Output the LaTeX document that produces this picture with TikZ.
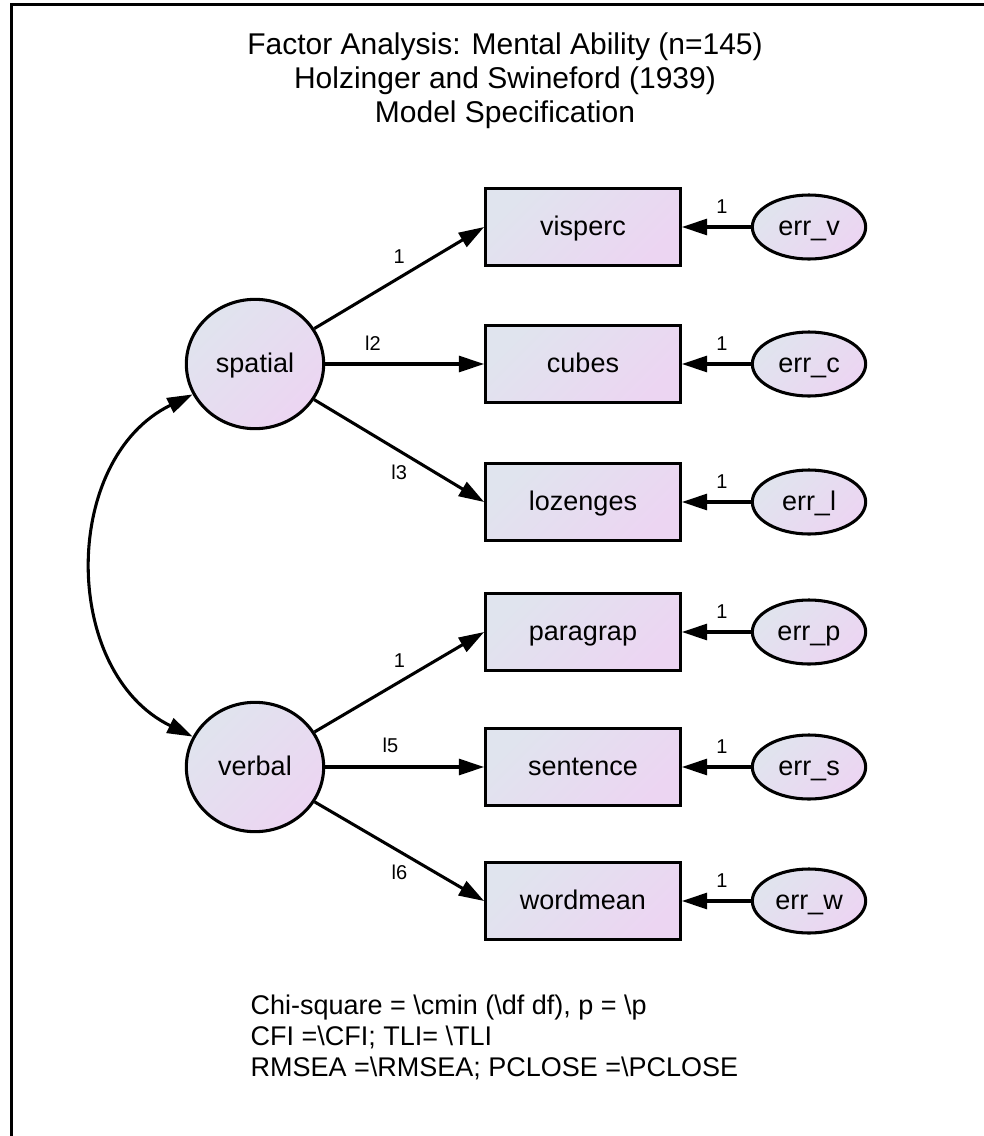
\documentclass[tikz,border=0pt]{standalone}
\usepackage{fontspec}
\setmainfont{Liberation Sans}
\usetikzlibrary{arrows.meta,shapes.geometric}
\definecolor{bl}{RGB}{224,228,238}
\definecolor{pk}{RGB}{236,213,242}
\tikzstyle{every node}=[font=\fontsize{20.25}{24}\selectfont]
\tikzstyle{latent}=[ellipse,draw,minimum width=103pt,minimum height=97pt,inner sep=0pt,text height=12.5pt,text depth=0pt,top color=bl,bottom color=pk,shading angle=45]
\tikzstyle{manifest}=[rectangle,draw,minimum width=146pt,minimum height=58pt,inner sep=0pt,text height=12.5pt,text depth=0pt,top color=bl,bottom color=pk,shading angle=45]
\tikzstyle{errvar}=[ellipse,draw,minimum width=85pt,minimum height=48pt,inner sep=0pt,text height=12.5pt,text depth=0pt,top color=bl,bottom color=pk,shading angle=45]
\tikzstyle{coef}=[font=\fontsize{15}{17}\selectfont]
\tikzstyle{heading}=[align=center,inner sep=0pt,anchor=north,font=\fontsize{22.5}{25.5}\selectfont]
\tikzstyle{fitinfo}=[align=left,inner sep=0pt,anchor=north west,font=\fontsize{20.25}{23.25}\selectfont]

\begin{document}
\begin{tikzpicture}[x=0.75pt,y=-0.75pt,->,>={Triangle[length=19pt,width=12pt]},line width=2.3pt,node distance=169.5pt]
	\useasboundingbox (0,0) rectangle (984,1136);
	\draw[-,line width=2.25pt] (984,4) -| (11,1136);
	\node[heading] (head) at (505,31) {Factor Analysis: Mental Ability (n=145)\\Holzinger and Swineford (1939)\\Model Specification};
	% factors
	\node[latent] (spatial) at (255,364) {spatial};
	\node[latent] (verbal) at (255,767) {verbal};
	% indicators
	\node[manifest] (visperc) at (583,227) {visperc};
	\node[manifest] (cubes) at (583,364) {cubes};
	\node[manifest] (lozenges) at (583,502) {lozenges};
	\node[manifest] (paragrap) at (583,632) {paragrap};
	\node[manifest] (sentence) at (583,767) {sentence};
	\node[manifest] (wordmean) at (583,901) {wordmean};
	% errors
	\node[errvar] (ev) [right of=visperc] {err\_v};
	\node[errvar] (ec) [right of=cubes] {err\_c};
	\node[errvar] (el) [right of=lozenges] {err\_l};
	\node[errvar] (ep) [right of=paragrap] {err\_p};
	\node[errvar] (es) [right of=sentence] {err\_s};
	\node[errvar] (ew) [right of=wordmean] {err\_w};
	\node[fitinfo] (fit) at (249,993) {Chi-square = \textbackslash cmin (\textbackslash df df), p = \textbackslash p\\CFI =\textbackslash CFI; TLI= \textbackslash TLI\\RMSEA =\textbackslash RMSEA; PCLOSE =\textbackslash PCLOSE};
	\path
		(spatial)	edge	node[coef,above=6pt]{1}		(visperc.west)
		(spatial)	edge	node[coef,above=6pt,pos=0.3]{l2}	(cubes.west)
		(spatial)	edge	node[coef,below=6pt]{l3}	(lozenges.west)
		(verbal)	edge	node[coef,above=6pt]{1}		(paragrap.west)
		(verbal)	edge	node[coef,above=6pt,pos=0.41]{l5}	(sentence.west)
		(verbal)	edge	node[coef,below=6pt]{l6}	(wordmean.west)
		(spatial)	edge[<->,out=206,in=154,looseness=1.1]	(verbal);
	\foreach \e/\v in {ev/visperc,ec/cubes,el/lozenges,ep/paragrap,es/sentence,ew/wordmean}
		\path (\e) edge node[coef,above=6pt,pos=0.42]{1} (\v);
\end{tikzpicture}
\end{document}
